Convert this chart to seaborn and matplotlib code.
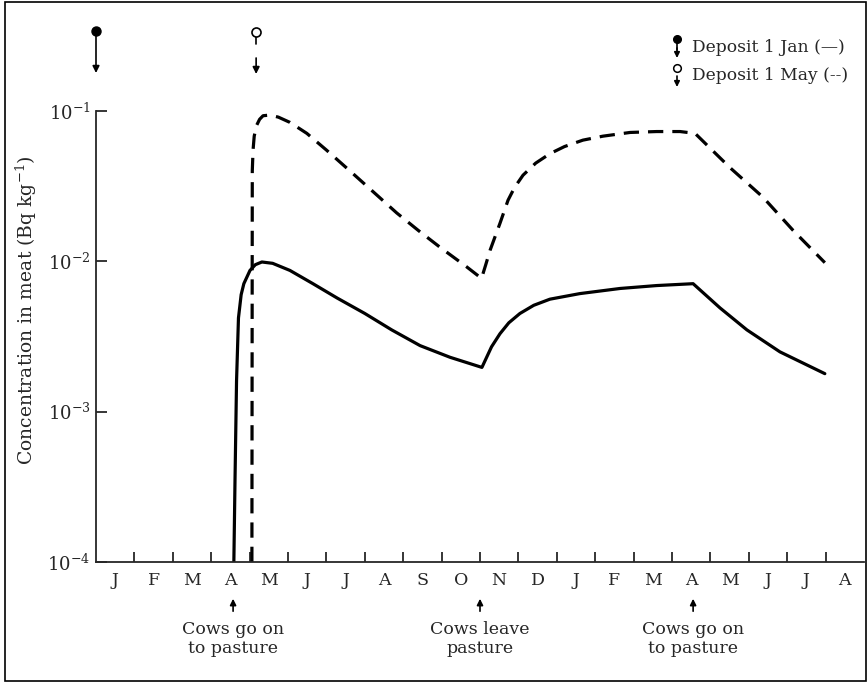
import numpy as np
import pandas as pd
import seaborn as sns
import matplotlib.pyplot as plt
from matplotlib.lines import Line2D
from matplotlib.patches import Rectangle

# months since 1 Jan of first year, concentration in meat (Bq/kg)
jan_months = [3.59, 3.62, 3.66, 3.71, 3.78, 3.85, 4.01, 4.15, 4.32, 4.6, 5.05, 5.65,
              6.28, 7.0, 7.7, 8.44, 9.22, 10.05, 10.3, 10.52, 10.75, 11.04, 11.4,
              11.82, 12.6, 13.65, 14.6, 15.55, 16.25, 16.95, 17.81, 18.98]
jan_conc = [1e-4, 3.5e-4, 1.6e-3, 4.2e-3, 6.0e-3, 7.1e-3, 8.7e-3, 9.5e-3, 9.9e-3,
            9.7e-3, 8.7e-3, 7.1e-3, 5.7e-3, 4.5e-3, 3.5e-3, 2.75e-3, 2.3e-3,
            1.97e-3, 2.7e-3, 3.3e-3, 3.9e-3, 4.5e-3, 5.1e-3, 5.6e-3, 6.1e-3,
            6.6e-3, 6.9e-3, 7.1e-3, 4.9e-3, 3.5e-3, 2.5e-3, 1.79e-3]

may_months = [4.06, 4.07, 4.09, 4.12, 4.18, 4.26, 4.35, 4.53, 4.75, 5.05, 5.49, 6.0,
              6.61, 7.22, 7.83, 8.4, 8.96, 9.65, 10.04, 10.15, 10.26, 10.52, 10.73,
              10.9, 11.12, 11.45, 11.82, 12.2, 12.68, 13.2, 13.91, 14.6, 15.21, 15.6,
              16.51, 17.37, 18.15, 18.98]
may_conc = [1e-4, 0.040, 0.055, 0.068, 0.080, 0.088, 0.093, 0.094, 0.091, 0.084,
            0.071, 0.055, 0.040, 0.029, 0.021, 0.016, 0.0124, 9.2e-3, 7.7e-3,
            9.5e-3, 0.0118, 0.0179, 0.0255, 0.031, 0.0374, 0.045, 0.052, 0.058,
            0.064, 0.068, 0.072, 0.073, 0.073, 0.071, 0.042, 0.0267, 0.0161, 9.8e-3]

month_labels = ["J", "F", "M", "A", "M", "J", "J", "A", "S", "O", "N", "D",
                "J", "F", "M", "A", "M", "J", "J", "A"]
events = [(3.57, "Cows go on\nto pasture"), (10.0, "Cows leave\npasture"),
          (15.55, "Cows go on\nto pasture")]

sns.set_style("ticks")
plt.rcParams["font.family"] = ["DejaVu Serif"]
plt.rcParams["mathtext.fontset"] = "dejavuserif"
plt.rcParams["lines.scale_dashes"] = False

W, H = 868, 683
fig = plt.figure(figsize=(W / 100, H / 100), dpi=100)
ax = fig.add_axes([96 / W, 1 - 562 / H, 768 / W, 451 / H])

df_jan = pd.DataFrame({"month": jan_months, "conc": jan_conc})
df_may = pd.DataFrame({"month": may_months, "conc": may_conc})
sns.lineplot(data=df_jan, x="month", y="conc", ax=ax, color="black", lw=2.3,
             estimator=None, sort=False)
sns.lineplot(data=df_may, x="month", y="conc", ax=ax, color="black", lw=2.3,
             estimator=None, sort=False)
ax.lines[-1].set_dashes((11, 6.5))
for ln in ax.lines:
    ln.set_solid_joinstyle("round")
    ln.set_dash_joinstyle("round")

ax.set_yscale("log")
ax.set_ylim(1e-4, 1e-1)
ax.set_xlim(0, 20)
ax.spines["top"].set_visible(False)
ax.spines["right"].set_visible(False)
for s in ["left", "bottom"]:
    ax.spines[s].set_linewidth(1.3)

ax.set_yticks([1e-4, 1e-3, 1e-2, 1e-1])
ax.set_yticklabels([r"$10^{-4}$", r"$10^{-3}$", r"$10^{-2}$", r"$10^{-1}$"],
                   fontsize=13)
ax.yaxis.set_minor_locator(plt.NullLocator())
ax.tick_params(axis="y", direction="in", length=8, width=1.3, pad=4)

ax.set_xticks(np.arange(1, 20))
ax.set_xticklabels([])
ax.set_xticks(np.arange(20) + 0.5, minor=True)
ax.set_xticklabels(month_labels, minor=True, fontsize=12.5)
ax.tick_params(axis="x", which="major", direction="in", length=7, width=1.3)
ax.tick_params(axis="x", which="minor", length=0, pad=7)

ax.set_xlabel("")
ax.set_ylabel("")
fig.text(26 / W, 1 - 310 / H, r"Concentration in meat (Bq kg$^{-1}$)", rotation=90,
         ha="center", va="center", fontsize=13.5)

# events below the axis
for xm, txt in events:
    ax.annotate("", xy=(xm, 1 - 596 / H), xytext=(xm, 1 - 614 / H),
                xycoords=("data", "figure fraction"),
                textcoords=("data", "figure fraction"),
                arrowprops=dict(arrowstyle="-|>", color="black", lw=1.2,
                                mutation_scale=9))
    ax.annotate(txt, xy=(xm, 1 - 639 / H), xycoords=("data", "figure fraction"),
                ha="center", va="center", fontsize=12.5, linespacing=1.15,
                annotation_clip=False)

# deposit markers at top
tc = ("data", "figure fraction")
trans2 = ax.get_xaxis_transform().__class__(ax.transData, fig.transFigure)


def deposit_arrow(x0, y0, y1):
    ax.annotate("", xy=(x0, y1), xytext=(x0, y0), xycoords=tc, textcoords=tc,
                arrowprops=dict(arrowstyle="-|>", color="black", lw=1.2,
                                mutation_scale=10, shrinkA=0, shrinkB=0),
                annotation_clip=False)


deposit_arrow(0, 1 - 31 / H, 1 - 73 / H)
ax.plot([0], [1 - 31 / H], marker="o", ms=6.5, color="black",
        transform=trans2, clip_on=False)
ax.plot([4.17, 4.17], [1 - 36 / H, 1 - 44 / H], color="black", lw=1.2,
        transform=trans2, clip_on=False)
deposit_arrow(4.17, 1 - 58 / H, 1 - 74 / H)
ax.plot([4.17], [1 - 32 / H], marker="o", ms=6.5, mfc="white", mec="black",
        mew=1.2, transform=trans2, clip_on=False)

# key in the top right
fig.add_artist(Line2D([677 / W, 677 / W], [1 - 40 / H, 1 - 50 / H], color="black",
                      lw=1.2, transform=fig.transFigure))
fig.add_artist(Line2D([677 / W], [1 - 39 / H], marker="o", ms=5.5, color="black",
                      transform=fig.transFigure))
ax.annotate("", xy=(677 / W, 1 - 58 / H), xytext=(677 / W, 1 - 48 / H),
            xycoords="figure fraction",
            arrowprops=dict(arrowstyle="-|>", color="black", lw=1.2,
                            mutation_scale=8, shrinkA=0, shrinkB=0))
fig.add_artist(Line2D([677 / W], [1 - 68 / H], marker="o", ms=5.5, mfc="white",
                      mec="black", mew=1.1, transform=fig.transFigure))
ax.annotate("", xy=(677 / W, 1 - 87 / H), xytext=(677 / W, 1 - 76 / H),
            xycoords="figure fraction",
            arrowprops=dict(arrowstyle="-|>", color="black", lw=1.2,
                            mutation_scale=8, shrinkA=0, shrinkB=0))
fig.text(692 / W, 1 - 47 / H, "Deposit 1 Jan (—)", fontsize=12.3, va="center")
fig.text(692 / W, 1 - 76 / H, "Deposit 1 May (--)", fontsize=12.3, va="center")

# outer frame
fig.add_artist(Rectangle((5 / W, 1 - 681 / H), 861 / W, 679 / H, fill=False,
                         ec="black", lw=1.2, transform=fig.transFigure))

fig.savefig("out.png", dpi=100)
